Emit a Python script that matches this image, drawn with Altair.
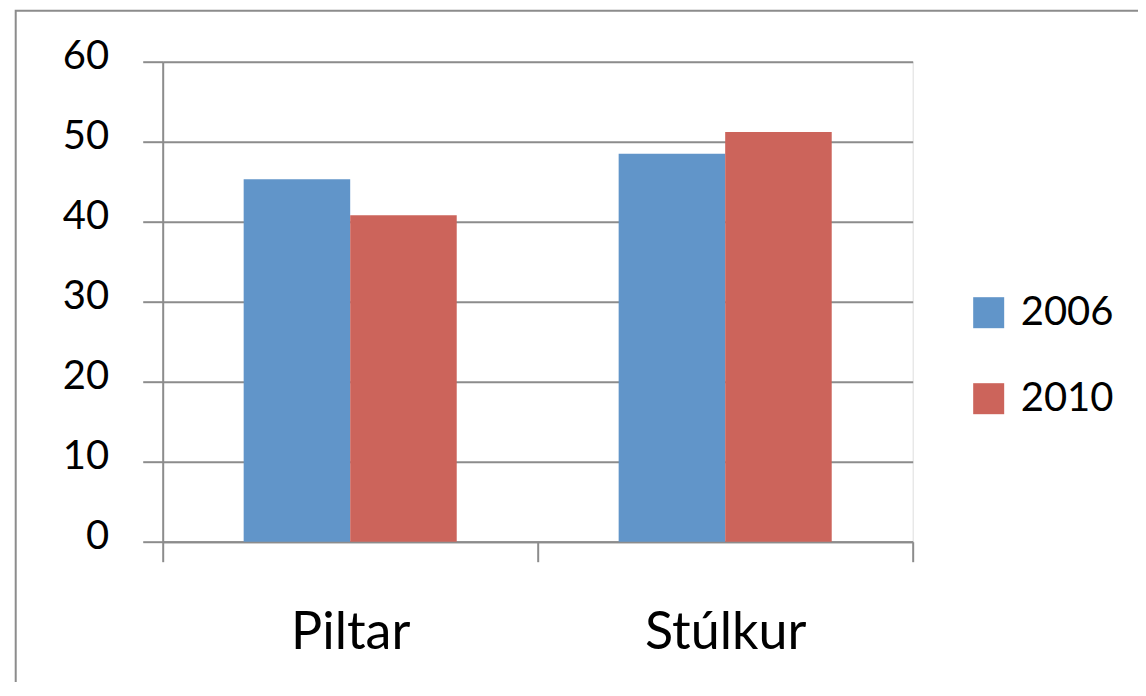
import altair as alt
import pandas as pd

categories = ["Piltar", "Stúlkur"]
years = ["2006", "2010"]
values_2006 = [45.3, 48.5]
values_2010 = [40.8, 51.2]

colors = ["#6195C9", "#CC645B"]

rows = []
for i, c in enumerate(categories):
    rows.append({"cat": c, "year": years[0], "value": values_2006[i]})
    rows.append({"cat": c, "year": years[1], "value": values_2010[i]})
df = pd.DataFrame(rows)

FONT = "Lato"
GRID = "#8C8C8C"

border = alt.Chart(alt.Data(values=[{"k": 1}])).mark_rect(
    fill="white", fillOpacity=0, stroke="#8C8C8C", strokeWidth=2
).encode(
    x=alt.value(-147), x2=alt.value(2000),
    y=alt.value(-51), y2=alt.value(2000)
)

bars = alt.Chart(df).mark_bar().encode(
    x=alt.X("cat:N", sort=categories, title=None,
            scale=alt.Scale(paddingInner=0, paddingOuter=0),
            axis=alt.Axis(labelAngle=0, labelFontSize=52, labelFont=FONT,
                          labelColor="black", tickBand="extent", tickSize=20,
                          tickColor=GRID, tickWidth=2, domainColor=GRID,
                          domainWidth=2, labelPadding=46, grid=False)),
    xOffset=alt.XOffset("year:N", sort=years,
                        scale=alt.Scale(paddingInner=0, paddingOuter=0.76)),
    y=alt.Y("value:Q", title=None,
            scale=alt.Scale(domain=[0, 60], nice=False),
            axis=alt.Axis(values=[0, 10, 20, 30, 40, 50, 60], labelFontSize=40,
                          labelFont=FONT, labelColor="black", tickSize=20,
                          tickColor=GRID, tickWidth=2, domainColor=GRID,
                          domainWidth=2, gridColor=GRID, gridWidth=2,
                          gridOpacity=1, labelPadding=34, labelOffset=-5)),
    color=alt.Color("year:N", sort=years,
                    scale=alt.Scale(domain=years, range=colors),
                    legend=alt.Legend(title=None, orient="none", legendX=806,
                                      legendY=231, symbolType="square",
                                      symbolSize=961, symbolStrokeWidth=0,
                                      symbolOpacity=1,
                                      labelFontSize=40, labelFont=FONT,
                                      labelColor="black", labelOffset=12,
                                      rowPadding=46, padding=0)),
)

chart = alt.layer(border, bars).properties(
    width=750, height=480,
    autosize=alt.AutoSizeParams(type="none"),
    padding={"left": 154.7, "top": 53.7, "right": 225, "bottom": 140},
).configure_view(stroke=None).configure(background="white")

chart.save("out.html", embed_options={"renderer": "svg", "actions": False})
